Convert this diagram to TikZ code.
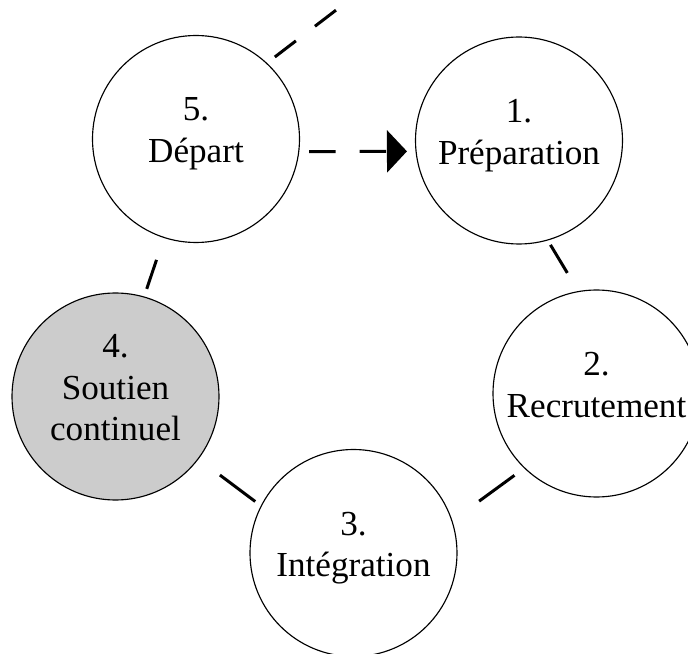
\documentclass[tikz,border=0pt]{standalone}
\usepackage{fontspec}
\setmainfont{Liberation Serif}
\usetikzlibrary{arrows.meta}
\begin{document}
\begin{tikzpicture}[
	stage/.style={circle,draw,line width=0.65pt,fill=white,minimum size=4.14cm,inner sep=0pt,outer sep=0pt,align=center,text depth=10pt,font=\fontsize{20pt}{23.6pt}\selectfont},
	link/.style={line width=1.7pt},
	flow/.style={link,dash pattern=on 0.53cm off 0.48cm},
	]
	\useasboundingbox (0,0) rectangle (13.76,-13.08);
	\node[stage] (n1) at (10.38,-2.81) {1.\\Préparation};
	\node[stage] (n2) at (11.93,-7.87) {2.\\Recrutement};
	\node[stage] (n3) at (7.07,-11.06) {3.\\Intégration};
	\node[stage,fill=black!20] (n4) at (2.31,-7.93) {4.\\Soutien\\continuel};
	\node[stage] (n5) at (3.92,-2.78) {5.\\Départ};
	\coordinate (exit) at (7.56,0.44);
	\draw[link,shorten <=0.114cm,shorten >=0.435cm] (n1.-74) -- (n2.100);
	\draw[link,shorten <=0.252cm,shorten >=0.673cm] (n2.226) -- (n3.18);
	\draw[link,shorten <=0.151cm,shorten >=0.544cm] (n3.153) -- (n4.-37);
	\draw[link,shorten <=0.171cm,shorten >=0.473cm] (n4.74) -- (n5.252);
	\draw[flow,shorten <=0.206cm,shorten >=0.182cm,-{Triangle[length=0.4cm,width=0.84cm]}] (n5.-7) -- (n1.186);
	\draw[flow,shorten <=0.208cm] (n5.47) -- (exit);
\end{tikzpicture}
\end{document}
